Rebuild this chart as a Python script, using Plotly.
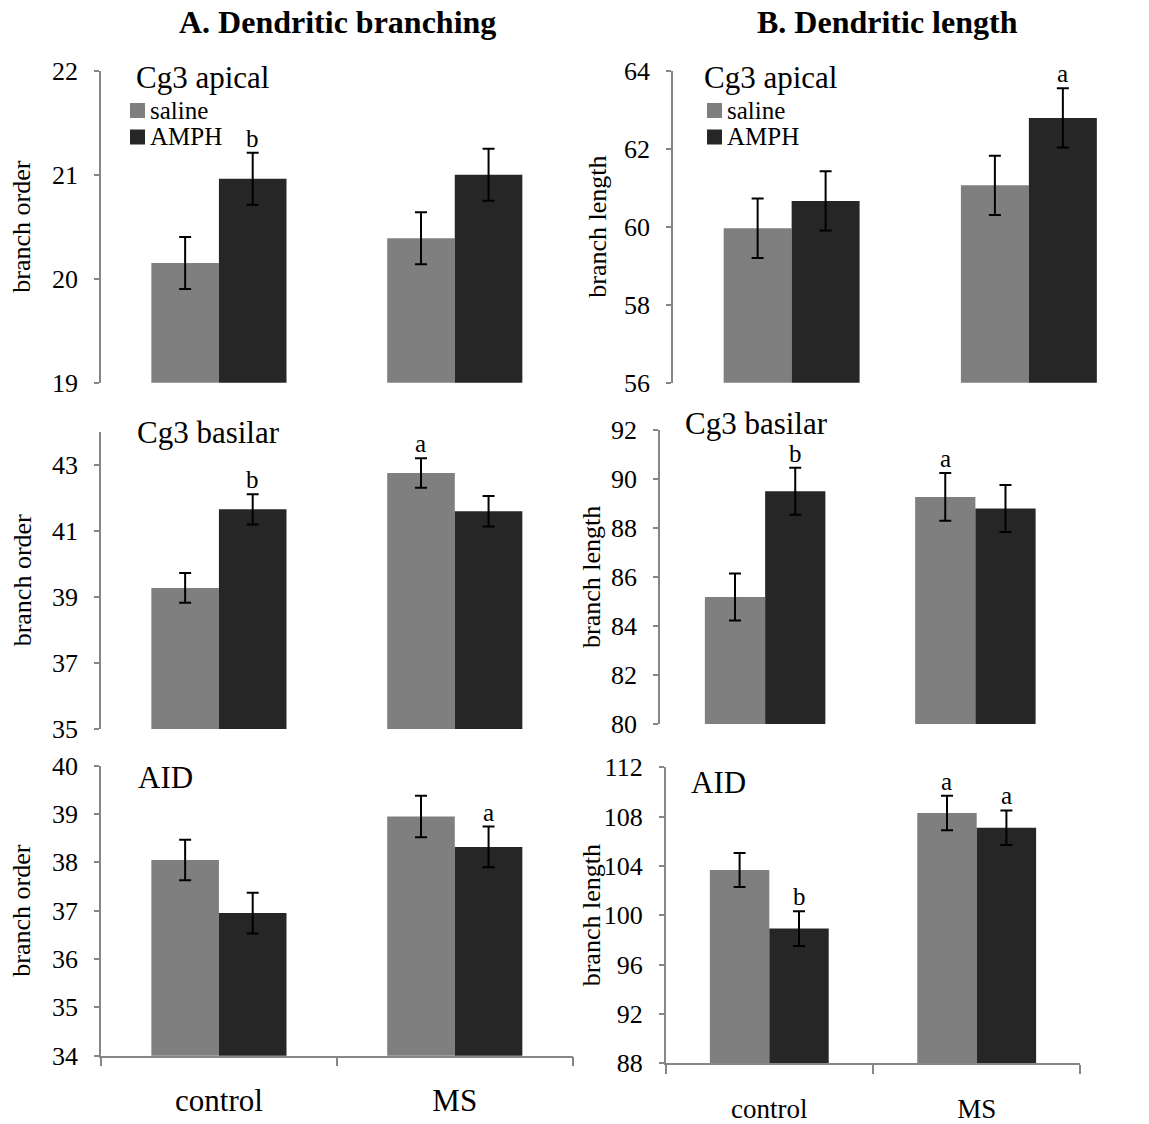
import plotly.graph_objects as go

W, H = 1149, 1124

groups = ["control", "MS"]
treatments = ["saline", "AMPH"]
colors = {"saline": "#7f7f7f", "AMPH": "#262626"}

# Panel A: Dendritic branching (branch order)
apical_order_saline = [20.15, 20.39]
apical_order_amph = [20.96, 21.00]
apical_order_saline_err = [0.25, 0.25]
apical_order_amph_err = [0.25, 0.25]
apical_order_saline_sig = ["", ""]
apical_order_amph_sig = ["b", ""]

basilar_order_saline = [39.27, 42.75]
basilar_order_amph = [41.65, 41.59]
basilar_order_saline_err = [0.45, 0.45]
basilar_order_amph_err = [0.46, 0.46]
basilar_order_saline_sig = ["", "a"]
basilar_order_amph_sig = ["b", ""]

aid_order_saline = [38.05, 38.95]
aid_order_amph = [36.95, 38.32]
aid_order_saline_err = [0.42, 0.43]
aid_order_amph_err = [0.42, 0.42]
aid_order_saline_sig = ["", ""]
aid_order_amph_sig = ["", "a"]

# Panel B: Dendritic length (branch length)
apical_len_saline = [59.96, 61.06]
apical_len_amph = [60.66, 62.79]
apical_len_saline_err = [0.76, 0.76]
apical_len_amph_err = [0.76, 0.76]
apical_len_saline_sig = ["", ""]
apical_len_amph_sig = ["", "a"]

basilar_len_saline = [85.18, 89.27]
basilar_len_amph = [89.50, 88.80]
basilar_len_saline_err = [0.96, 0.97]
basilar_len_amph_err = [0.96, 0.96]
basilar_len_saline_sig = ["", "a"]
basilar_len_amph_sig = ["b", ""]

aid_len_saline = [103.68, 108.30]
aid_len_amph = [98.92, 107.10]
aid_len_saline_err = [1.38, 1.40]
aid_len_amph_err = [1.40, 1.40]
aid_len_saline_sig = ["", "a"]
aid_len_amph_sig = ["b", "a"]

FONT = "Liberation Serif, Times New Roman, serif"
AXIS_COLOR = "#868686"
BARGAP = 0.427

panels = [
    dict(name="Cg3 apical", ylabel="branch order", rng=[19, 22], dtick=1,
         s=apical_order_saline, a=apical_order_amph, se=apical_order_saline_err, ae=apical_order_amph_err,
         ss=apical_order_saline_sig, asig=apical_order_amph_sig,
         xd=[101, 572.7], yd=[70.7, 382.7], bottom=False, legend=True,
         title_pos=(134, 78), leg_x=130, ytitle_x=22, xfont=31, xstand=16),
    dict(name="Cg3 basilar", ylabel="branch order", rng=[35, 44], dtick=2,
         s=basilar_order_saline, a=basilar_order_amph, se=basilar_order_saline_err, ae=basilar_order_amph_err,
         ss=basilar_order_saline_sig, asig=basilar_order_amph_sig,
         xd=[101, 572.7], yd=[431.7, 729], bottom=False, legend=False,
         title_pos=(135, 432), ytitle_x=22, xfont=31, xstand=16),
    dict(name="AID", ylabel="branch order", rng=[34, 40], dtick=1,
         s=aid_order_saline, a=aid_order_amph, se=aid_order_saline_err, ae=aid_order_amph_err,
         ss=aid_order_saline_sig, asig=aid_order_amph_sig,
         xd=[101, 572.7], yd=[765.7, 1055.7], bottom=True, legend=False,
         title_pos=(136, 777), ytitle_x=22, xfont=31, xstand=16),
    dict(name="Cg3 apical", ylabel="branch length", rng=[56, 64], dtick=2,
         s=apical_len_saline, a=apical_len_amph, se=apical_len_saline_err, ae=apical_len_amph_err,
         ss=apical_len_saline_sig, asig=apical_len_amph_sig,
         xd=[673, 1147.5], yd=[70.7, 382.7], bottom=False, legend=True,
         title_pos=(702, 78), leg_x=707, ytitle_x=598, xfont=27, xstand=21),
    dict(name="Cg3 basilar", ylabel="branch length", rng=[80, 92], dtick=2,
         s=basilar_len_saline, a=basilar_len_amph, se=basilar_len_saline_err, ae=basilar_len_amph_err,
         ss=basilar_len_saline_sig, asig=basilar_len_amph_sig,
         xd=[660, 1080.5], yd=[430, 724], bottom=False, legend=False,
         title_pos=(683, 423), ytitle_x=591, xfont=27, xstand=21),
    dict(name="AID", ylabel="branch length", rng=[88, 112], dtick=4,
         s=aid_len_saline, a=aid_len_amph, se=aid_len_saline_err, ae=aid_len_amph_err,
         ss=aid_len_saline_sig, asig=aid_len_amph_sig,
         xd=[665.6, 1080.4], yd=[767.3, 1063.3], bottom=True, legend=False,
         title_pos=(689, 782), ytitle_x=591, xfont=27, xstand=21),
]


def fx(px):
    return px / W


def fy(py):
    return 1 - py / H


fig = go.Figure()
annotations = []
shapes = []
layout = {}

for i, p in enumerate(panels, start=1):
    xa = "x" if i == 1 else f"x{i}"
    ya = "y" if i == 1 else f"y{i}"
    for tname, vals, errs in (("saline", p["s"], p["se"]), ("AMPH", p["a"], p["ae"])):
        fig.add_trace(go.Bar(
            x=groups, y=vals, name=tname, xaxis=xa, yaxis=ya,
            marker=dict(color=colors[tname], line=dict(width=0)),
            error_y=dict(type="data", array=errs, visible=True, color="black", thickness=2, width=6),
            showlegend=False,
        ))

    xkey = "xaxis" if i == 1 else f"xaxis{i}"
    ykey = "yaxis" if i == 1 else f"yaxis{i}"
    layout[xkey] = dict(
        domain=[fx(p["xd"][0]), fx(p["xd"][1])], anchor=ya, range=[-0.5, 1.5], type="category",
        automargin=False,
        showline=p["bottom"], linecolor=AXIS_COLOR, linewidth=1.5,
        ticks="outside" if p["bottom"] else "", tickson="boundaries", ticklen=9, tickcolor=AXIS_COLOR,
        tickwidth=1.5, showticklabels=p["bottom"], showgrid=False, zeroline=False,
        tickfont=dict(family=FONT, size=p["xfont"], color="black"), ticklabelstandoff=p["xstand"],
    )
    layout[ykey] = dict(
        domain=[fy(p["yd"][1]), fy(p["yd"][0])], anchor=xa, range=p["rng"], tick0=p["rng"][0], dtick=p["dtick"],
        automargin=False,
        showline=True, linecolor=AXIS_COLOR, linewidth=1.5, ticks="outside", ticklen=5, tickcolor=AXIS_COLOR,
        tickwidth=1.5, showgrid=False, zeroline=False,
        tickfont=dict(family=FONT, size=26, color="black"), ticklabelstandoff=11,
    )
    # y-axis title as rotated annotation
    annotations.append(dict(
        text=p["ylabel"], xref="paper", yref="paper", x=fx(p["ytitle_x"]), y=fy((p["yd"][0] + p["yd"][1]) / 2),
        textangle=-90, showarrow=False, xanchor="center", yanchor="middle",
        font=dict(family=FONT, size=26, color="black"),
    ))
    # panel label
    annotations.append(dict(
        text=p["name"], xref="paper", yref="paper", x=fx(p["title_pos"][0]), y=fy(p["title_pos"][1]),
        showarrow=False, xanchor="left", yanchor="middle",
        font=dict(family=FONT, size=31, color="black"),
    ))
    # significance letters
    off = (1 - BARGAP) / 4
    for sigs, vals, errs, sgn in ((p["ss"], p["s"], p["se"], -1), (p["asig"], p["a"], p["ae"], 1)):
        for j, letter in enumerate(sigs):
            if letter:
                annotations.append(dict(
                    text=letter, xref=xa, yref=ya, x=j + sgn * off, y=vals[j] + errs[j],
                    showarrow=False, xanchor="center", yanchor="bottom", yshift=-1,
                    font=dict(family=FONT, size=25, color="black"),
                ))
    # legend
    if p["legend"]:
        for k, (tname, cy) in enumerate((("saline", 110.5), ("AMPH", 137))):
            shapes.append(dict(type="rect", xref="paper", yref="paper",
                               x0=fx(p["leg_x"]), x1=fx(p["leg_x"] + 15), y0=fy(cy + 7.5), y1=fy(cy - 7.5),
                               fillcolor=colors[tname], line=dict(width=0)))
            annotations.append(dict(
                text=tname, xref="paper", yref="paper", x=fx(p["leg_x"] + 18), y=fy(cy),
                showarrow=False, xanchor="left", yanchor="middle",
                font=dict(family=FONT, size=25, color="black"),
            ))

# column headers
annotations.append(dict(text="<b>A. Dendritic branching</b>", xref="paper", yref="paper", x=fx(337), y=fy(22),
                        showarrow=False, xanchor="center", yanchor="middle",
                        font=dict(family=FONT, size=32, color="black")))
annotations.append(dict(text="<b>B. Dendritic length</b>", xref="paper", yref="paper", x=fx(887), y=fy(22),
                        showarrow=False, xanchor="center", yanchor="middle",
                        font=dict(family=FONT, size=32, color="black")))

fig.update_layout(
    width=W, height=H, margin=dict(l=0, r=0, t=0, b=0, autoexpand=False),
    paper_bgcolor="white", plot_bgcolor="white",
    barmode="group", bargap=BARGAP, bargroupgap=0,
    showlegend=False,
    annotations=annotations, shapes=shapes,
    font=dict(family=FONT, color="black"),
    **layout,
)

fig.write_html("out.html")
